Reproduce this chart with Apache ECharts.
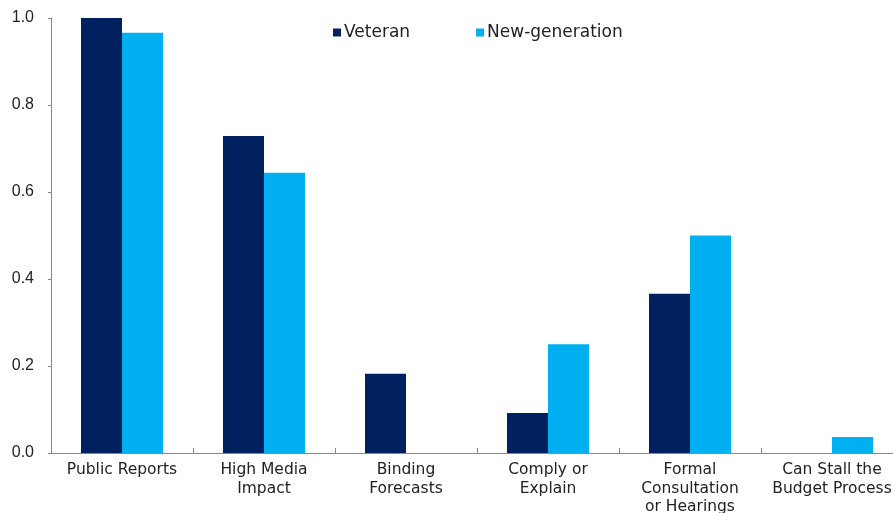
<!DOCTYPE html>
<html>
<head>
<meta charset="utf-8">
<script src="https://cdn.jsdelivr.net/npm/echarts@6/dist/echarts.min.js"></script>
<style>
  html, body { margin: 0; padding: 0; background: #fff; }
  #chart { width: 893px; height: 513px; }
</style>
</head>
<body>
<div id="chart"></div>
<script>
  var categories = ['Public Reports', 'High Media\nImpact', 'Binding\nForecasts', 'Comply or\nExplain', 'Formal\nConsultation\nor Hearings', 'Can Stall the\nBudget Process'];
  var veteran = [1.0, 0.729, 0.182, 0.092, 0.366, 0];
  var newGeneration = [0.966, 0.644, 0, 0.25, 0.50, 0.037];

  var myChart = echarts.init(document.getElementById('chart'));
  var font = 'DejaVu Sans, Arial, sans-serif';
  var option = {
    animation: false,
    textStyle: { fontFamily: font },
    legend: {
      left: 333,
      top: 24,
      padding: 0,
      icon: 'rect',
      itemWidth: 8,
      itemHeight: 8,
      itemGap: 66,
      textStyle: { fontSize: 17, color: '#222', fontFamily: font, padding: [0, 0, 0, -2] },
      data: ['Veteran', 'New-generation']
    },
    grid: {
      left: 51,
      width: 852,
      top: 18,
      bottom: 60,
      containLabel: false,
      outerBoundsMode: 'none'
    },
    xAxis: {
      type: 'category',
      data: categories,
      axisLine: { lineStyle: { color: '#888', width: 1 } },
      axisTick: { show: true, inside: true, length: 5, lineStyle: { color: '#888' } },
      axisLabel: {
        interval: 0,
        fontSize: 15.5,
        color: '#222',
        lineHeight: 18.5,
        margin: 8,
        fontFamily: font
      }
    },
    yAxis: {
      type: 'value',
      min: 0,
      max: 1,
      interval: 0.2,
      splitLine: { show: false },
      axisLine: { show: true, lineStyle: { color: '#888', width: 1 } },
      axisTick: { show: true, length: 3, lineStyle: { color: '#888' } },
      axisLabel: {
        fontSize: 16,
        color: '#222',
        margin: 17,
        fontFamily: 'Liberation Sans, Arial, sans-serif',
        formatter: function (v) { return v.toFixed(1); }
      }
    },
    series: [
      {
        name: 'Veteran',
        type: 'bar',
        data: veteran,
        barWidth: 41,
        barGap: '0%',
        itemStyle: { color: '#002060' }
      },
      {
        name: 'New-generation',
        type: 'bar',
        data: newGeneration,
        barWidth: 41,
        barGap: '0%',
        itemStyle: { color: '#00B0F0' }
      }
    ]
  };
  myChart.setOption(option);
</script>
</body>
</html>
